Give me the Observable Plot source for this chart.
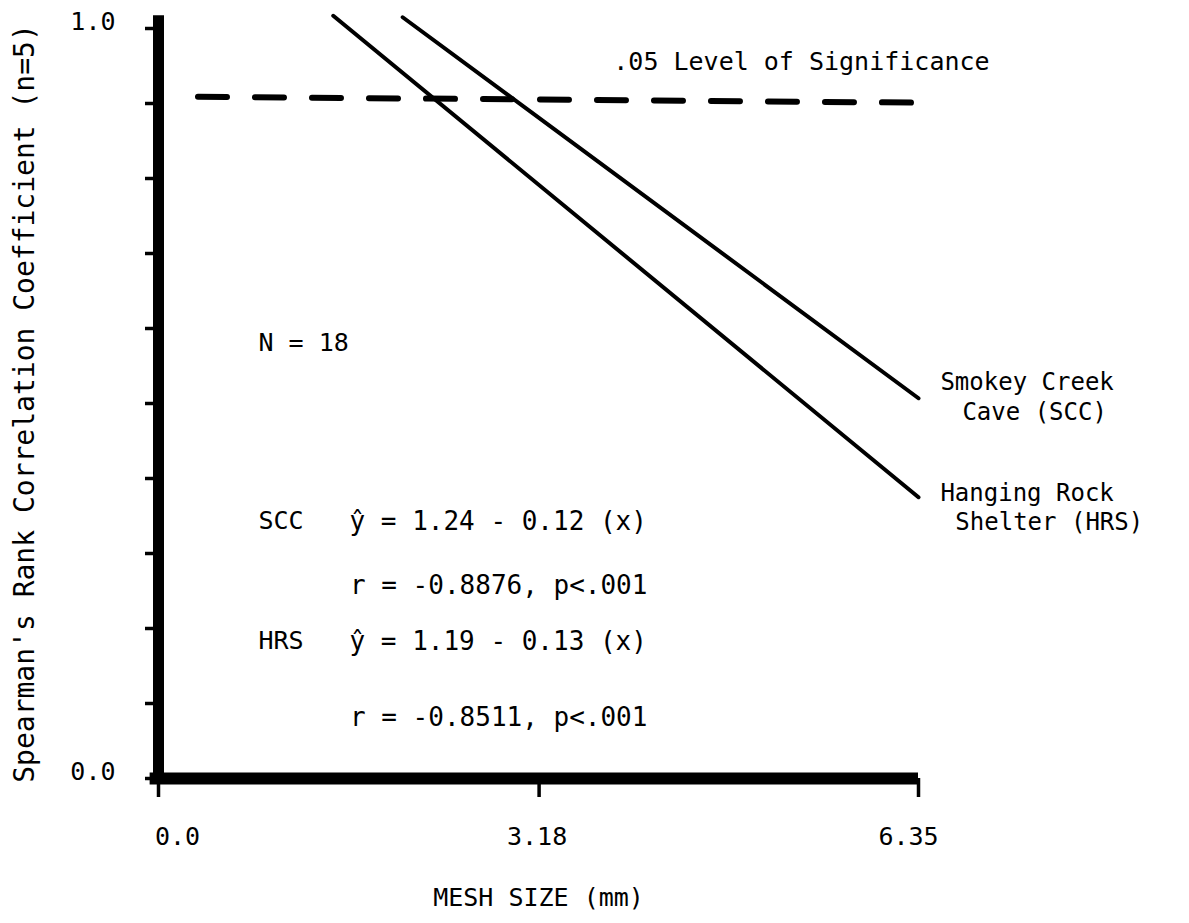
<!DOCTYPE html>
<html>
<head>
<meta charset="utf-8">
<script src="https://cdn.jsdelivr.net/npm/d3@7"></script>
<script src="https://cdn.jsdelivr.net/npm/@observablehq/plot@0.6"></script>
<style>
  html, body { margin: 0; padding: 0; background: #fff; }
  #chart svg { display: block; }
</style>
</head>
<body>
<div id="chart"></div>
<script>
// ---- data ----
const meshSizes = [0.0, 3.18, 6.35];                 // x tick values (mm)
const meshLabels = ["0.0", "3.18", "6.35"];
const yTicks = [0, 0.1, 0.2, 0.3, 0.4, 0.5, 0.6, 0.7, 0.8, 0.9, 1.0];
const yLabelled = [0, 1];

// regression lines (endpoints as drawn)
const sccX = [2.04, 6.35];
const sccY = [1.015, 0.507];
const hrsX = [1.46, 6.35];
const hrsY = [1.017, 0.375];

// .05 level of significance (dashed)
const sigX = [0.33, 6.43];
const sigY = [0.909, 0.901];

const xTitle = "MESH SIZE (mm)";
const yTitle = "Spearman's Rank Correlation Coefficient (n=5)";

// annotations
const sigLabel = ".05 Level of Significance";
const nLabel = "N = 18";
const siteCodes = ["SCC", "HRS"];
const equations = ["ŷ = 1.24 - 0.12 (x)", "ŷ = 1.19 - 0.13 (x)"];
const stats = ["r = -0.8876, p<.001", "r = -0.8511, p<.001"];
const sccName = ["Smokey Creek", "Cave (SCC)"];
const hrsName = ["Hanging Rock", "Shelter (HRS)"];

// ---- tables built from the arrays ----
const scc = sccX.map((x, i) => ({x, y: sccY[i]}));
const hrs = hrsX.map((x, i) => ({x, y: hrsY[i]}));
const sig = sigX.map((x, i) => ({x, y: sigY[i]}));

const FONT = "'DejaVu Sans Mono', 'Liberation Mono', monospace";
const fs = 25;
const xLabelDx = [19, -2, -10];

const txt = (s, x, y, opts = {}) =>
  Plot.text([s], {x: () => x, y: () => y, text: d => d, textAnchor: "start",
    lineAnchor: "middle", fontSize: fs, fill: "#000", ...opts});

const chart = Plot.plot({
  width: 1189,
  height: 923,
  marginLeft: 158,
  marginRight: 271,
  marginTop: 28,
  marginBottom: 145,
  style: {fontFamily: FONT, background: "#fff", color: "#000"},
  x: {domain: [0, 6.35], axis: null},
  y: {domain: [0, 1], axis: null},
  marks: [
    // y tick marks
    Plot.axisY({ticks: yTicks, tickSize: 13, tickFormat: () => "", label: null, strokeWidth: 3.5}),
    // y tick labels
    Plot.text(yLabelled, {x: 0, y: d => d, text: d => d.toFixed(1), textAnchor: "end",
      dx: -43, dy: -7, fontSize: fs}),
    // x tick marks
    Plot.axisX({ticks: meshSizes, tickSize: 19, tickFormat: () => "", label: null, strokeWidth: 3.5}),
    // x tick labels
    ...meshSizes.map((m, i) => Plot.text([m], {x: d => d, y: 0, text: () => meshLabels[i],
      dy: 58, dx: xLabelDx[i], fontSize: fs})),
    // heavy axes
    Plot.ruleX([0], {y1: -0.007, y2: 1.017, strokeWidth: 11}),
    Plot.ruleY([0], {x1: -0.07, x2: 6.35, strokeWidth: 12}),
    // significance line
    Plot.line(sig, {x: "x", y: "y", strokeWidth: 6, strokeDasharray: "29,28"}),
    // regression lines
    Plot.line(scc, {x: "x", y: "y", strokeWidth: 4}),
    Plot.line(hrs, {x: "x", y: "y", strokeWidth: 4}),
    // annotations
    txt(sigLabel, 3.80, 0.955),
    txt(nLabel, 0.835, 0.581),
    txt(siteCodes[0], 0.835, 0.343),
    txt(equations[0], 1.596, 0.343, {fontSize: 26}),
    txt(stats[0], 1.60, 0.257, {fontSize: 26}),
    txt(siteCodes[1], 0.835, 0.183),
    txt(equations[1], 1.596, 0.183, {fontSize: 26}),
    txt(stats[1], 1.60, 0.081, {fontSize: 26}),
    txt(sccName[0], 6.533, 0.528, {fontSize: 24}),
    txt(sccName[1], 6.717, 0.488, {fontSize: 24}),
    txt(hrsName[0], 6.533, 0.380, {fontSize: 24}),
    txt(hrsName[1], 6.658, 0.341, {fontSize: 24}),
    // axis titles
    Plot.text([xTitle], {frameAnchor: "bottom", dy: 119, text: d => d, fontSize: 25,
      textAnchor: "middle", lineAnchor: "middle"}),
    Plot.text([yTitle], {frameAnchor: "left", dx: -133, rotate: -90, text: d => d, fontSize: 28,
      textAnchor: "middle", lineAnchor: "middle"})
  ]
});
document.getElementById("chart").appendChild(chart);
</script>
</body>
</html>
